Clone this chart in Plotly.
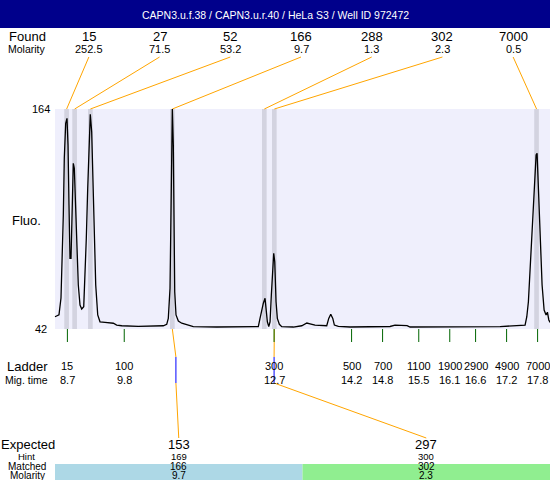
import plotly.graph_objects as go

# ---------------- data ----------------
title_text = "CAPN3.u.f.38 / CAPN3.u.r.40 / HeLa S3 / Well ID 972472"

mig_time = [8.46, 8.537, 8.576, 8.601, 8.621, 8.640, 8.667, 8.692, 8.712, 8.731,
            8.750, 8.770, 8.789, 8.814, 8.834, 8.861, 8.886, 8.911, 8.944, 8.977,
            9.016, 9.041, 9.066, 9.093, 9.118, 9.143, 9.170, 9.196, 9.221, 9.248,
            9.287, 9.331, 9.428, 9.589, 9.654, 9.752, 10.072, 10.396, 10.556, 10.622,
            10.653, 10.686, 10.705, 10.719, 10.731, 10.750, 10.764, 10.777, 10.802, 10.847,
            10.913, 11.009, 11.137, 11.590, 12.235, 12.395, 12.428, 12.461, 12.492, 12.525,
            12.545, 12.570, 12.597, 12.622, 12.647, 12.674, 12.693, 12.713, 12.738, 12.763,
            12.802, 12.848, 13.073, 13.236, 13.335, 13.396, 13.493, 13.719, 13.758, 13.797,
            13.836, 13.867, 13.944, 14.170, 14.945, 15.041, 15.274, 15.332, 16.106, 17.074,
            17.558, 17.591, 17.622, 17.655, 17.688, 17.719, 17.746, 17.771, 17.790, 17.810,
            17.835, 17.862, 17.887, 17.926, 17.964, 17.990, 18.017, 18.042]
fluo = [48.8, 49.8, 59.2, 79.3, 105.2, 136.8, 156.1, 158.8, 144.0, 110.8,
        81.2, 81.2, 110.8, 133.9, 131.1, 110.8, 86.7, 66.4, 55.3, 53.1,
        54.4, 70.1, 92.3, 120.0, 147.7, 161.1, 151.4, 125.6, 92.3, 66.4,
        49.8, 46.0, 45.7, 45.2, 44.2, 43.8, 43.5, 43.5, 43.8, 44.6,
        47.9, 64.6, 97.8, 142.2, 164.0, 144.0, 99.7, 62.7, 49.8, 46.4,
        45.2, 44.2, 43.3, 43.1, 43.1, 43.3, 47.9, 53.5, 56.3, 59.0,
        53.5, 46.0, 43.3, 46.0, 60.9, 79.3, 84.0, 79.3, 57.1, 47.9,
        44.6, 43.3, 43.1, 43.8, 45.3, 44.9, 44.2, 43.8, 47.9, 50.2,
        47.9, 44.2, 43.5, 43.1, 43.4, 44.1, 43.9, 43.1, 43.3, 43.3,
        44.2, 48.8, 57.1, 75.7, 92.3, 110.8, 125.6, 138.5, 139.4, 121.8,
        103.4, 83.0, 66.4, 52.5, 49.8, 51.3, 47.0, 45.7]

found_size = ["15", "27", "52", "166", "288", "302", "7000"]
found_molarity = ["252.5", "71.5", "53.2", "9.7", "1.3", "2.3", "0.5"]
found_time = [8.685, 8.84, 9.145, 10.731, 12.511, 12.705, 17.78]

ladder_size = ["15", "100", "300", "500", "700", "1100", "1900", "2900", "4900", "7000"]
ladder_time = [8.7, 9.8, 12.7, 14.2, 14.8, 15.5, 16.1, 16.6, 17.2, 17.8]

expected_size = ["153", "297"]
hint_size = ["169", "300"]
matched_size = ["166", "302"]
matched_molarity = ["9.7", "2.3"]
matched_time = [10.731, 12.705]
hint_time = [10.80, 12.70]

fluo_ticks = [42, 164]

# ---------------- layout geometry ----------------
W, H = 550, 480
PL, PR, PT, PB = 55, 550, 109, 329          # panel edges in pixels
T_LO, T_HI = 8.46, 18.04                   # panel time range
F_LO, F_HI = fluo_ticks[0], fluo_ticks[1]  # panel fluorescence range
sx = (T_HI - T_LO) / (PR - PL)
sy = (F_HI - F_LO) / (PB - PT)
X0, X1 = T_LO - PL * sx, T_HI + (W - PR) * sx
Y0, Y1 = F_LO - (H - PB) * sy, F_HI + PT * sy


def X(px):
    return X0 + px * sx


def Y(py):
    return Y1 - py * sy


FONT = "Liberation Sans, Arial, sans-serif"
ORANGE = "#FFA500"
BLUE = "#0000FF"
GREEN = "#006400"
BAND = "#D3D3E0"
PANEL_BG = "#EFEFFC"

fig = go.Figure()
shapes = []
ann = []


def text(x, y, s, size, color="black", xanchor="center", yanchor="middle"):
    ann.append(dict(x=x, y=y, xref="x", yref="y", text=s, showarrow=False,
                    xanchor=xanchor, yanchor=yanchor, borderpad=0,
                    font=dict(family=FONT, size=size, color=color)))


# title bar
shapes.append(dict(type="rect", xref="x", yref="y", x0=X(0), x1=X(W), y0=Y(28), y1=Y(0),
                   fillcolor="#00008B", line=dict(width=0), layer="below"))
text(X(W / 2), Y(14.5), title_text, 10.5, color="white")

# panel background
shapes.append(dict(type="rect", xref="x", yref="y", x0=T_LO, x1=T_HI, y0=F_LO, y1=F_HI,
                   fillcolor=PANEL_BG, line=dict(width=0), layer="below"))
# peak bands
for t in found_time:
    shapes.append(dict(type="rect", xref="x", yref="y", x0=t - 0.045, x1=t + 0.045,
                       y0=F_LO, y1=F_HI, fillcolor=BAND, line=dict(width=0), layer="below"))

# matched cells
n_exp = len(expected_size)
cell_w = (T_HI - T_LO) / n_exp
cell_colors = ["#ADD8E6", "#90EE90"]
for i in range(n_exp):
    shapes.append(dict(type="rect", xref="x", yref="y", x0=T_LO + i * cell_w,
                       x1=T_LO + (i + 1) * cell_w, y0=Y(H + 2), y1=Y(464),
                       fillcolor=cell_colors[i], line=dict(width=0), layer="below"))

# top connectors (found labels -> peaks)
n_found = len(found_size)
found_w = (T_HI - T_LO) / n_found
found_cx = [T_LO + (i + 0.5) * found_w - 1.5 * sx for i in range(n_found)]
for cx, t in zip(found_cx, found_time):
    fig.add_trace(go.Scatter(x=[cx, t], y=[Y(57), F_HI], mode="lines",
                             line=dict(color=ORANGE, width=1), hoverinfo="skip"))

# bottom connectors (peaks -> expected labels)
exp_cx = [T_LO + (i + 0.5) * cell_w for i in range(n_exp)]
for t, ht, cx in zip(matched_time, hint_time, exp_cx):
    fig.add_trace(go.Scatter(x=[t, ht], y=[F_LO, Y(357)], mode="lines",
                             line=dict(color=ORANGE, width=1), hoverinfo="skip"))
    fig.add_trace(go.Scatter(x=[ht, ht], y=[Y(357), Y(383)], mode="lines",
                             line=dict(color=BLUE, width=1), hoverinfo="skip"))
    fig.add_trace(go.Scatter(x=[ht, cx], y=[Y(383), Y(438)], mode="lines",
                             line=dict(color=ORANGE, width=1), hoverinfo="skip"))

# electropherogram trace
fig.add_trace(go.Scatter(x=mig_time, y=fluo, mode="lines",
                         line=dict(color="black", width=1.3), hoverinfo="skip"))

# ladder ticks
for t in ladder_time:
    shapes.append(dict(type="line", xref="x", yref="y", x0=t, x1=t, y0=F_LO, y1=Y(342),
                       line=dict(color=GREEN, width=1), layer="above"))

# left labels
text(X(27), Y(36), "Found", 13)
text(X(27), Y(49), "Molarity", 10.5)
text(X(26.5), Y(220), "Fluo.", 13)
for v in fluo_ticks:
    text(X(41), v, str(v), 11)
text(X(27), Y(366), "Ladder", 13)
text(X(26.5), Y(380), "Mig. time", 10.5)
text(X(27.5), Y(444.5), "Expected", 13)
text(X(26.5), Y(456.5), "Hint", 9.5)
text(X(27), Y(466), "Matched", 10)
text(X(27.5), Y(475.5), "Molarity", 10)

# found row
for cx, s, m in zip(found_cx, found_size, found_molarity):
    text(cx, Y(36), s, 13)
    text(cx, Y(49), m, 11)

# ladder row
for t, s in zip(ladder_time, ladder_size):
    text(t, Y(366), s, 11)
    text(t, Y(380), f"{t:.1f}", 11)

# expected rows
for cx, e, h, m, mo in zip(exp_cx, expected_size, hint_size, matched_size, matched_molarity):
    text(cx, Y(444.5), e, 13)
    text(cx, Y(456.5), h, 9.5)
    text(cx, Y(466), m, 10)
    text(cx, Y(475.5), mo, 10)

fig.update_layout(
    width=W, height=H, margin=dict(l=0, r=0, t=0, b=0),
    paper_bgcolor="white", plot_bgcolor="white",
    showlegend=False, shapes=shapes, annotations=ann,
    xaxis=dict(range=[X0, X1], visible=False, fixedrange=True),
    yaxis=dict(range=[Y0, Y1], visible=False, fixedrange=True),
)
fig.write_html("out.html", config={"displayModeBar": False},
               post_script="document.body.style.margin='0';document.body.style.overflow='hidden';")
